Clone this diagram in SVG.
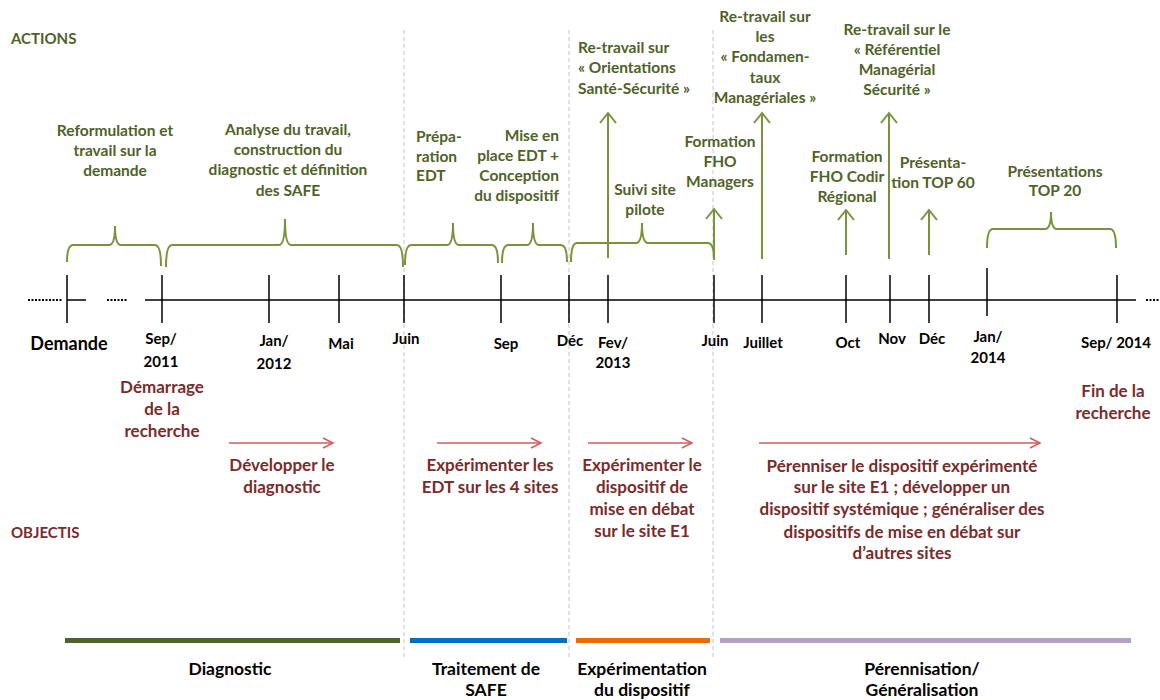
<svg xmlns="http://www.w3.org/2000/svg" width="1160" height="700" viewBox="0 0 1160 700">
<defs>
<style>
text{font-family:Lato,"Liberation Sans",sans-serif;font-weight:bold}
.act{fill:#4f6228;font-size:15.5px}
.obj{fill:#7a2b2b;font-size:17px}
.ax{fill:#000;font-size:15px}
.ph{fill:#000;font-size:17.5px}
.hd{font-size:15px}
.c{text-anchor:middle}
.r{text-anchor:end}
.br{fill:none;stroke:#77933c;stroke-width:2}
.ga{stroke:#77933c;stroke-width:2;marker-end:url(#gah)}
.ra{stroke:#c9605c;stroke-width:1.5;marker-end:url(#rah)}
.tk{stroke:#000;stroke-width:1.5}
.dt{stroke:#000;stroke-width:2;stroke-dasharray:2 1.5}
.dv{stroke:#c4c4c4;stroke-width:1;stroke-dasharray:4 3}
</style>
<marker id="gah" markerUnits="userSpaceOnUse" markerWidth="14" markerHeight="20" refX="11" refY="10" orient="auto"><path d="M1,2 L11,10 L1,18" fill="none" stroke="#77933c" stroke-width="2"/></marker>
<marker id="rah" markerUnits="userSpaceOnUse" markerWidth="14" markerHeight="14" refX="11" refY="7" orient="auto"><path d="M1,2 L11,7 L1,12" fill="none" stroke="#c9605c" stroke-width="1.5"/></marker>
</defs>
<rect width="1160" height="700" fill="#fff"/>

<g id="dividers">
<line class="dv" x1="404" y1="30" x2="404" y2="658"/>
<line class="dv" x1="569" y1="30" x2="569" y2="658"/>
<line class="dv" x1="713" y1="30" x2="713" y2="658"/>
</g>

<g id="headers">
<text x="11" y="44" class="act hd">ACTIONS</text>
<text x="11" y="538" class="obj hd">OBJECTIS</text>
</g>

<g id="axis">
<line class="dt" x1="28" y1="300" x2="63" y2="300"/>
<line class="tk" x1="67" y1="300" x2="86" y2="300"/>
<line class="dt" x1="107" y1="300" x2="128" y2="300"/>
<line class="tk" x1="145" y1="300" x2="1136" y2="300"/>
<line class="dt" x1="1146" y1="300" x2="1160" y2="300"/>
<line class="tk" x1="67" y1="275" x2="67" y2="323"/>
<line class="tk" x1="162" y1="275" x2="162" y2="323"/>
<line class="tk" x1="269" y1="275" x2="269" y2="323"/>
<line class="tk" x1="339" y1="275" x2="339" y2="323"/>
<line class="tk" x1="404" y1="275" x2="404" y2="323"/>
<line class="tk" x1="501" y1="275" x2="501" y2="323"/>
<line class="tk" x1="569" y1="275" x2="569" y2="323"/>
<line class="tk" x1="608" y1="275" x2="608" y2="323"/>
<line class="tk" x1="714" y1="275" x2="714" y2="323"/>
<line class="tk" x1="762" y1="275" x2="762" y2="323"/>
<line class="tk" x1="846" y1="275" x2="846" y2="323"/>
<line class="tk" x1="890" y1="275" x2="890" y2="323"/>
<line class="tk" x1="929" y1="275" x2="929" y2="323"/>
<line class="tk" x1="987" y1="268" x2="987" y2="316"/>
<line class="tk" x1="1117" y1="275" x2="1117" y2="323"/>
</g>

<g id="axis-labels">
<text x="69" y="350" class="ax c" style="font-size:18px">Demande</text>
<text x="161" y="344" class="ax c">Sep/</text>
<text x="161" y="367" class="ax c">2011</text>
<text x="274" y="346" class="ax c">Jan/</text>
<text x="274" y="369" class="ax c">2012</text>
<text x="341" y="349" class="ax c">Mai</text>
<text x="406" y="344" class="ax c">Juin</text>
<text x="506" y="349" class="ax c">Sep</text>
<text x="570" y="346" class="ax c">Déc</text>
<text x="613" y="348" class="ax c">Fev/</text>
<text x="613" y="368" class="ax c">2013</text>
<text x="715" y="346" class="ax c">Juin</text>
<text x="763" y="348" class="ax c">Juillet</text>
<text x="848" y="348" class="ax c">Oct</text>
<text x="892" y="344" class="ax c">Nov</text>
<text x="932" y="344" class="ax c">Déc</text>
<text x="988" y="342" class="ax c">Jan/</text>
<text x="988" y="363" class="ax c">2014</text>
<text x="1116" y="348" class="ax c">Sep/ 2014</text>
</g>

<g id="connectors">
<path class="br" d="M67,262 Q67,245 73,245 L109,245 Q115,245 115,226 Q115,245 121,245 L155,245 Q161,245 161,266"/>
<path class="br" d="M166,267 Q166,245 172,245 L279,245 Q285,245 285,219 Q285,245 291,245 L397,245 Q403,245 403,267"/>
<path class="br" d="M405,265 Q405,245 411,245 L447,245 Q453,245 453,223 Q453,245 459,245 L492,245 Q498,245 498,263"/>
<path class="br" d="M502,263 Q502,245 508,245 L527,245 Q533,245 533,223 Q533,245 539,245 L561,245 Q567,245 567,262"/>
<path class="br" d="M571,262 Q571,243 577,243 L636,243 Q642,243 642,223 Q642,243 648,243 L708,243 Q714,243 714,260"/>
<path class="br" d="M987,248 Q987,229 993,229 L1045,229 Q1051,229 1051,212 Q1051,229 1057,229 L1110,229 Q1116,229 1116,248"/>
<line class="ga" x1="608" y1="258" x2="608" y2="113"/>
<line class="ga" x1="714" y1="259" x2="714" y2="209"/>
<line class="ga" x1="762" y1="259" x2="762" y2="113"/>
<line class="ga" x1="846" y1="255" x2="846" y2="210"/>
<line class="ga" x1="889" y1="259" x2="889" y2="113"/>
<line class="ga" x1="929" y1="255" x2="929" y2="210"/>
<line class="ra" x1="229" y1="443" x2="333" y2="443"/>
<line class="ra" x1="437" y1="443" x2="541" y2="443"/>
<line class="ra" x1="588" y1="443" x2="692" y2="443"/>
<line class="ra" x1="759" y1="443" x2="1040" y2="443"/>
</g>

<g id="a-reformulation">
<text x="115" y="136" class="act c">Reformulation et</text>
<text x="115" y="156" class="act c">travail sur la</text>
<text x="115" y="176" class="act c">demande</text>
</g>
<g id="a-analyse">
<text x="288" y="135" class="act c">Analyse du travail,</text>
<text x="288" y="155" class="act c">construction du</text>
<text x="288" y="175" class="act c">diagnostic et définition</text>
<text x="288" y="196" class="act c">des SAFE</text>
</g>
<g id="a-preparation">
<text x="416" y="142" class="act">Prépa-</text>
<text x="416" y="162" class="act">ration</text>
<text x="416" y="181" class="act">EDT</text>
</g>
<g id="a-mise-en-place">
<text x="559" y="141" class="act r">Mise en</text>
<text x="559" y="161" class="act r">place EDT +</text>
<text x="559" y="181" class="act r">Conception</text>
<text x="559" y="201" class="act r">du dispositif</text>
</g>
<g id="a-orientations">
<text x="578" y="53" class="act">Re-travail sur</text>
<text x="578" y="73" class="act">« Orientations</text>
<text x="578" y="94" class="act">Santé-Sécurité »</text>
</g>
<g id="a-suivi">
<text x="645" y="195" class="act c">Suivi site</text>
<text x="645" y="215" class="act c">pilote</text>
</g>
<g id="a-fho-managers">
<text x="720" y="147" class="act c">Formation</text>
<text x="720" y="167" class="act c">FHO</text>
<text x="720" y="187" class="act c">Managers</text>
</g>
<g id="a-fondamentaux">
<text x="765" y="22" class="act c">Re-travail sur</text>
<text x="765" y="42" class="act c">les</text>
<text x="765" y="62" class="act c">« Fondamen-</text>
<text x="765" y="83" class="act c">taux</text>
<text x="765" y="103" class="act c">Managériales »</text>
</g>
<g id="a-referentiel">
<text x="897" y="35" class="act c">Re-travail sur le</text>
<text x="897" y="55" class="act c">« Référentiel</text>
<text x="897" y="75" class="act c">Managérial</text>
<text x="897" y="95" class="act c">Sécurité »</text>
</g>
<g id="a-fho-codir">
<text x="847" y="162" class="act c">Formation</text>
<text x="847" y="182" class="act c">FHO Codir</text>
<text x="847" y="202" class="act c">Régional</text>
</g>
<g id="a-top60">
<text x="933" y="168" class="act c">Présenta-</text>
<text x="933" y="188" class="act c">tion TOP 60</text>
</g>
<g id="a-top20">
<text x="1055" y="177" class="act c">Présentations</text>
<text x="1055" y="196" class="act c">TOP 20</text>
</g>

<g id="o-demarrage">
<text x="162" y="393" class="obj c">Démarrage</text>
<text x="162" y="415" class="obj c">de la</text>
<text x="162" y="437" class="obj c">recherche</text>
</g>
<g id="o-diagnostic">
<text x="282" y="471" class="obj c">Développer le</text>
<text x="282" y="493" class="obj c">diagnostic</text>
</g>
<g id="o-edt">
<text x="490" y="471" class="obj c">Expérimenter les</text>
<text x="490" y="493" class="obj c">EDT sur les 4 sites</text>
</g>
<g id="o-dispositif">
<text x="642" y="471" class="obj c">Expérimenter le</text>
<text x="642" y="493" class="obj c">dispositif de</text>
<text x="642" y="515" class="obj c">mise en débat</text>
<text x="642" y="537" class="obj c">sur le site E1</text>
</g>
<g id="o-perenniser">
<text x="902" y="472" class="obj c">Pérenniser le dispositif expérimenté</text>
<text x="902" y="493" class="obj c">sur le site E1 ; développer  un</text>
<text x="902" y="515" class="obj c">dispositif systémique ; généraliser des</text>
<text x="902" y="538" class="obj c">dispositifs de mise en débat sur</text>
<text x="902" y="559" class="obj c">d’autres sites</text>
</g>
<g id="o-fin">
<text x="1113" y="397" class="obj c">Fin de la</text>
<text x="1113" y="419" class="obj c">recherche</text>
</g>

<g id="phases">
<rect x="65" y="638" width="335" height="5" fill="#4f6228"/>
<rect x="410" y="638" width="157" height="5" fill="#0070c0"/>
<rect x="576" y="638" width="134" height="5" fill="#e46c0a"/>
<rect x="720" y="638" width="411" height="5" fill="#b3a2c7"/>
<text x="230" y="675" class="ph c">Diagnostic</text>
<text x="486" y="675" class="ph c">Traitement de</text>
<text x="486" y="696" class="ph c">SAFE</text>
<text x="642" y="675" class="ph c">Expérimentation</text>
<text x="642" y="696" class="ph c">du dispositif</text>
<text x="922" y="675" class="ph c">Pérennisation/</text>
<text x="922" y="696" class="ph c">Généralisation</text>
</g>
</svg>
